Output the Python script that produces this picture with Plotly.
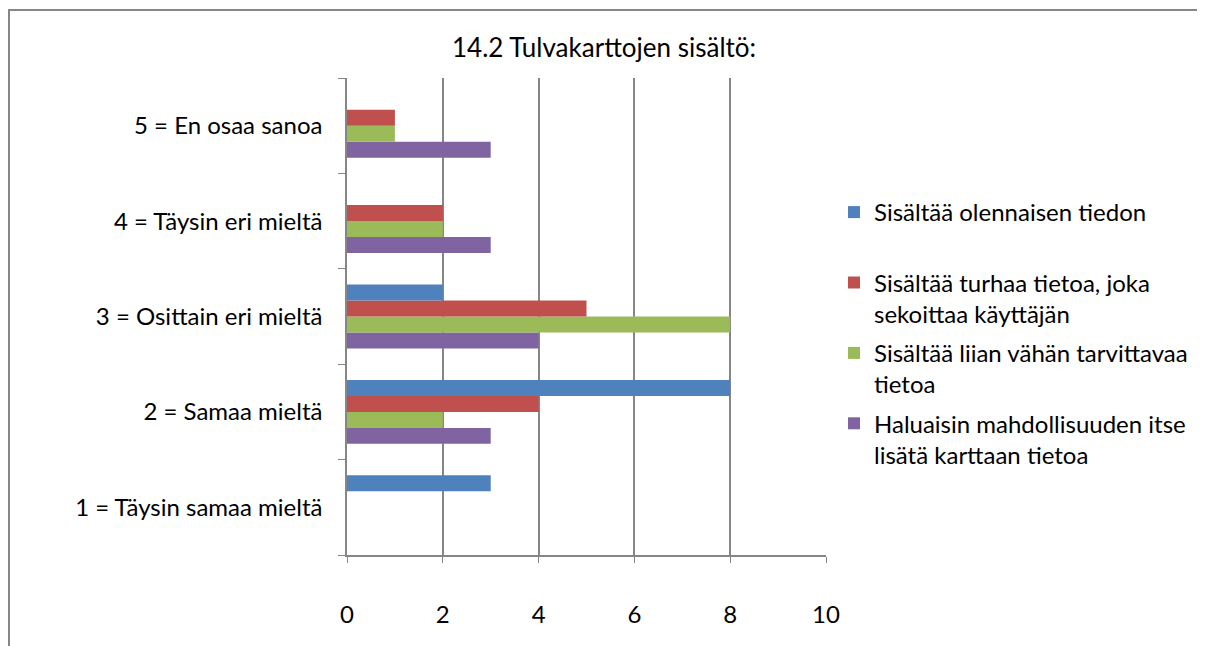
import plotly.graph_objects as go

categories = ["1 = Täysin samaa mieltä", "2 = Samaa mieltä", "3 = Osittain eri mieltä",
              "4 = Täysin eri mieltä", "5 = En osaa sanoa"]

olennainen = [3, 8, 2, 0, 0]
turhaa = [0, 4, 5, 2, 1]
liian_vahan = [0, 2, 8, 2, 1]
haluaisin = [0, 3, 4, 3, 3]

series_names = [
    "Sisältää olennaisen tiedon<br> ",
    "Sisältää turhaa tietoa, joka<br>sekoittaa käyttäjän",
    "Sisältää liian vähän tarvittavaa<br>tietoa",
    "Haluaisin mahdollisuuden itse<br>lisätä karttaan tietoa",
]
series_values = [olennainen, turhaa, liian_vahan, haluaisin]
colors = ["#4F81BD", "#C0504D", "#9BBB59", "#8064A2"]

grid = "#868686"

# plot area in figure pixels (page is offset by the 8px body margin)
L, R, T, B = 339, 818, 70, 547
W, H = 1205, 646
pw, ph = R - L, B - T

fig = go.Figure()

# plotly stacks horizontal groups bottom-up, so add in reverse to get blue on top
for i, (name, vals, col) in reversed(list(enumerate(zip(series_names, series_values, colors)))):
    fig.add_trace(go.Bar(
        y=categories,
        x=vals,
        name=name,
        legendgroup=f"g{i}",
        legendrank=i + 1,
        orientation="h",
        marker=dict(color=col, line=dict(width=0)),
    ))

fig.update_layout(
    width=W,
    height=H,
    barmode="group",
    bargap=0.33,
    bargroupgap=0,
    plot_bgcolor="white",
    paper_bgcolor="white",
    font=dict(family="Lato, Open Sans, sans-serif", size=24, color="black"),
    margin=dict(l=L, r=W - R, t=T, b=H - B),
    title=dict(text="14.2 Tulvakarttojen sisältö:", x=596 / W, xanchor="center",
               y=1 - 40 / H, yanchor="middle", font=dict(size=26)),
    legend=dict(
        traceorder="grouped",
        x=(826 - L) / pw,
        xanchor="left",
        y=(B - 182) / ph,
        yanchor="top",
        valign="top",
        font=dict(size=24),
        tracegroupgap=5,
        itemwidth=30,
    ),
    xaxis=dict(
        range=[0, 10],
        dtick=2,
        showgrid=True,
        gridcolor=grid,
        gridwidth=1.5,
        showline=True,
        linecolor=grid,
        linewidth=1.5,
        ticks="outside",
        ticklen=6,
        tickcolor=grid,
        ticklabelstandoff=31,
        zeroline=False,
        fixedrange=True,
    ),
    yaxis=dict(
        type="category",
        showgrid=False,
        showline=True,
        linecolor=grid,
        linewidth=1.5,
        ticks="outside",
        ticklen=7,
        tickcolor=grid,
        tickson="boundaries",
        ticklabelstandoff=18,
        fixedrange=True,
    ),
)

# outer chart frame
fig.add_shape(type="rect", xref="paper", yref="paper",
              x0=(1 - L) / pw, x1=2.0, y0=-0.4, y1=(B - 2) / ph,
              line=dict(color=grid, width=2), fillcolor="rgba(0,0,0,0)", layer="below")

fig.write_html("out.html")
